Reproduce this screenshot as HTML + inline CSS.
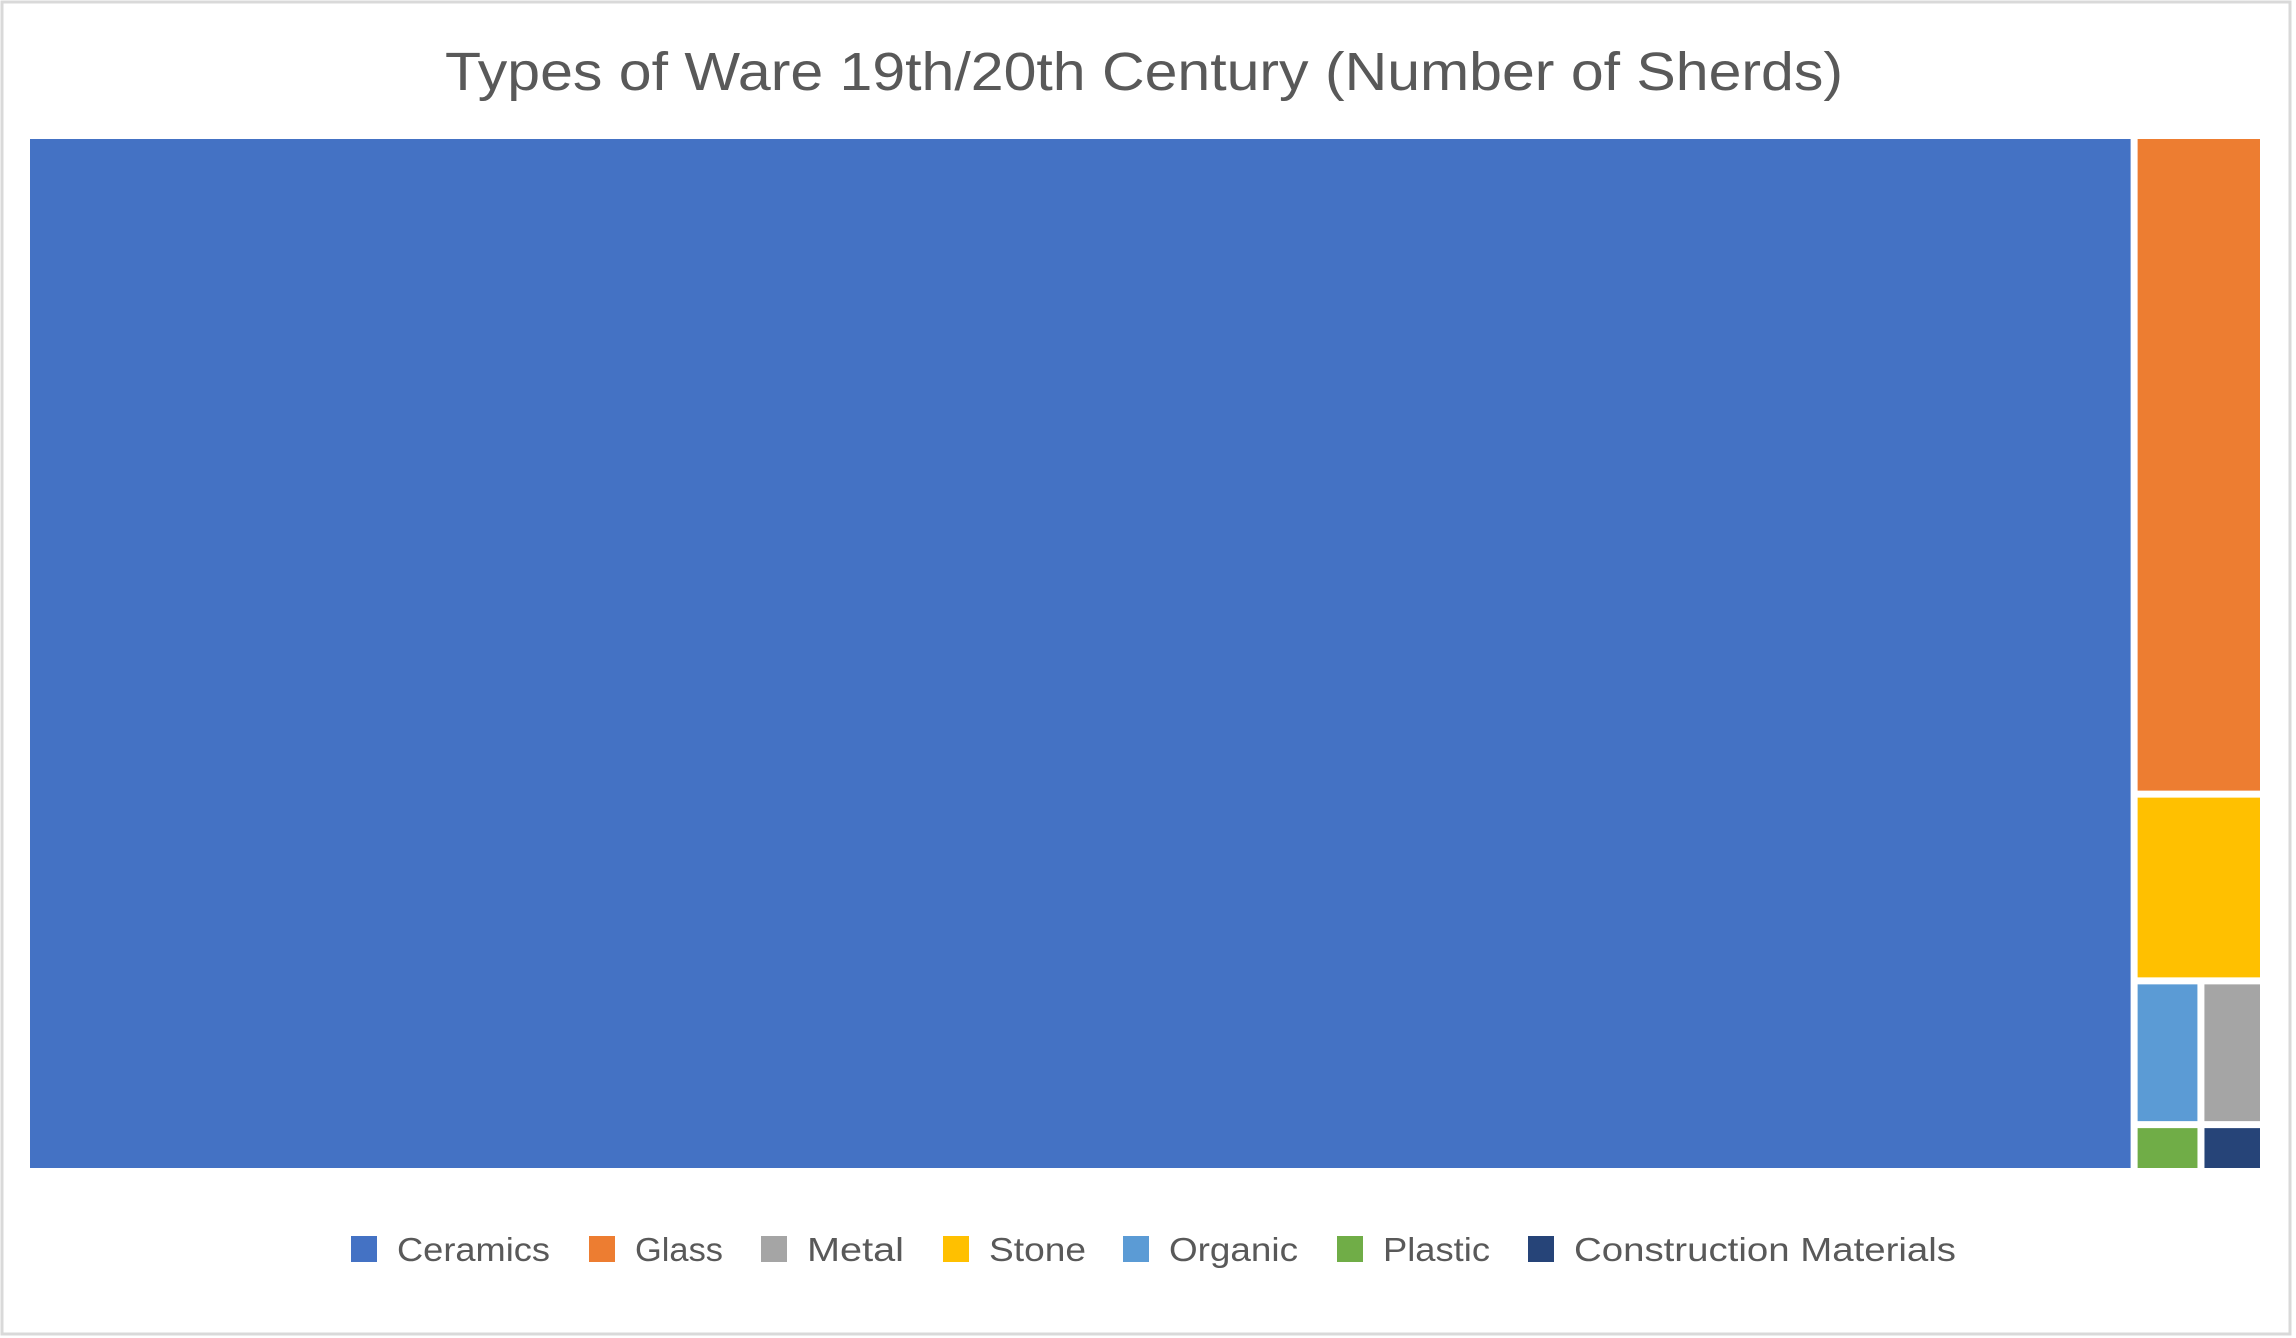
<!DOCTYPE html>
<html><head><meta charset="utf-8"><style>
html,body{margin:0;padding:0;background:#fff;}
svg{display:block;font-family:"Liberation Sans",sans-serif;}
</style></head><body>
<svg id="chart" width="2296" height="1338" viewBox="0 0 2296 1338" xmlns="http://www.w3.org/2000/svg">
<rect x="2" y="2" width="2288" height="1332" fill="#fff" stroke="#d9d9d9" stroke-width="3"/>
<text x="1144" y="90" text-anchor="middle" font-size="54" fill="#595959" textLength="1398" lengthAdjust="spacingAndGlyphs">Types of Ware 19th/20th Century (Number of Sherds)</text>
<g id="tiles"></g>
<g id="legend"></g>
</svg>
<script>
const categories = ["Ceramics","Glass","Stone","Organic","Metal","Plastic","Construction Materials"];
const values = [21600, 843, 239, 95, 89, 31, 29];
const colors = ["#4472c4","#ed7d31","#ffc000","#5b9bd5","#a5a5a5","#70ad47","#264478"];
const legendOrder = ["Ceramics","Glass","Metal","Stone","Organic","Plastic","Construction Materials"];
// strip groups (indices into categories) stacked vertically in the right strip
const stripRows = [[1],[2],[3,4],[5,6]];

const NS="http://www.w3.org/2000/svg";
const G=3.5;
const area={x:30-G,y:139-G,w:2230+2*G,h:1029+2*G};
const total=values.reduce((a,b)=>a+b,0);
const rects=[];
const cw=values[0]/total*area.w;
rects[0]={x:area.x,y:area.y,w:cw,h:area.h};
const stripSum=total-values[0];
const sx=area.x+cw, sw=area.w-cw;
let y=area.y;
stripRows.forEach(row=>{
  const rs=row.reduce((a,i)=>a+values[i],0);
  const h=rs/stripSum*area.h;
  let x=sx;
  row.forEach(i=>{const w=values[i]/rs*sw;rects[i]={x:x,y:y,w:w,h:h};x+=w;});
  y+=h;
});
const tiles=document.getElementById('tiles');
rects.forEach((b,k)=>{
  const el=document.createElementNS(NS,'rect');
  el.setAttribute('x',b.x+G);el.setAttribute('y',b.y+G);
  el.setAttribute('width',Math.max(0,b.w-2*G));el.setAttribute('height',Math.max(0,b.h-2*G));
  el.setAttribute('fill',colors[k]);
  
  
  tiles.appendChild(el);
});
const legendX=[351,589,761,943,1123,1337,1528];
const legendW=[153,88,97,97,129,107,382];
const lg=document.getElementById('legend');
legendOrder.forEach((c,k)=>{
  const idx=categories.indexOf(c);
  const m=document.createElementNS(NS,'rect');
  m.setAttribute('x',legendX[k]);m.setAttribute('y',1236);m.setAttribute('width',26);m.setAttribute('height',26);
  m.setAttribute('fill',colors[idx]);
  
  
  lg.appendChild(m);
  const t=document.createElementNS(NS,'text');
  t.setAttribute('x',legendX[k]+46);t.setAttribute('y',1261);
  t.setAttribute('font-size','33');t.setAttribute('fill','#595959');
  t.setAttribute('textLength',legendW[k]);t.setAttribute('lengthAdjust','spacingAndGlyphs');
  t.textContent=c;
  
  
  lg.appendChild(t);
});
</script>
</body></html>
